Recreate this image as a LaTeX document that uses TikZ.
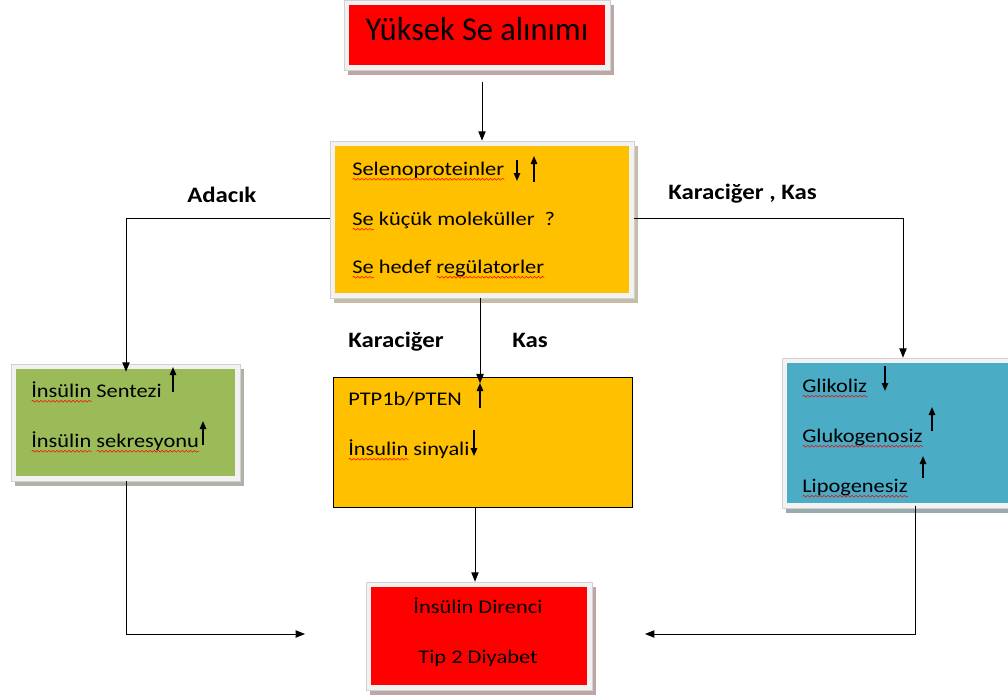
\documentclass[tikz,border=0pt]{standalone}
\usepackage{fontspec}
\usepackage{graphicx}
\setmainfont{Carlito}
\usetikzlibrary{arrows.meta,fit,backgrounds,decorations.pathmorphing}
\newsavebox\rwbox
\newcommand\rw[1]{\sbox\rwbox{#1}\makebox[0pt][l]{\tikz[baseline=0pt,x=1pt,y=1pt]\draw[red,line width=0.35pt,decorate,decoration={snake,amplitude=0.7pt,segment length=2.6pt}] (0pt,-3.2pt) -- (\the\wd\rwbox,-3.2pt);}\usebox\rwbox}
\newcommand\sx[1]{\scalebox{1.16}[1]{#1}}
\newcommand\bx[1]{\scalebox{1.13}[1]{#1}}
\definecolor{cred}{HTML}{FF0000}
\definecolor{corange}{HTML}{FFC000}
\definecolor{cgreen}{HTML}{9BBB59}
\definecolor{cblue}{HTML}{4BACC6}
\definecolor{cframe}{HTML}{F2F2F2}
\tikzset{
  frame/.style={draw=black!18, fill=cframe, inner sep=0pt, line width=0.5pt},
  txt/.style={anchor=base west, inner sep=0pt, font=\fontsize{14.5}{17}\selectfont},
  ctxt/.style={anchor=base, inner sep=0pt, font=\fontsize{14.5}{17}\selectfont},
  lbl/.style={anchor=base west, inner sep=0pt, font=\bfseries\fontsize{16.5}{19}\selectfont},
  con/.style={line width=0.7pt, -{Triangle[length=7pt,width=5.5pt]}},
  ind/.style={line width=1.1pt, -{Triangle[length=6pt,width=4.8pt]}}
}
\newcommand\fbx[7]{%
  \fill[#7] (#2+4,#3+5) rectangle (#4+4,#5+5);
  \node[frame, fit={(#2,#3)(#4,#5)}] (#1) {};
  \fill[#6] ([shift={(5,5)}]#1.north west) rectangle ([shift={(-5,-5)}]#1.south east);
}
\begin{document}
\begin{tikzpicture}[x=0.75pt,y=-0.75pt]
\useasboundingbox (0,0) rectangle (1008,700);
% boxes
\fbx{top}{344}{0}{610}{70}{cred}{cred!25!black!35}
\fbx{sel}{330}{141}{634}{298}{corange}{corange!35!black!35}
\fbx{isl}{11}{364}{240}{481}{cgreen}{cgreen!35!black!40}
\fbx{liv}{782}{358}{1015}{508}{cblue}{cblue!40!black!45}
\fbx{res}{366}{582}{592}{690}{cred}{cred!25!black!35}
\node[draw=black, fill=corange, line width=0.6pt, inner sep=0pt, fit={(333,377)(632,507)}] (ptp) {};

% texts
\node[anchor=base, inner sep=0pt, font=\fontsize{25}{29}\selectfont] (ttop) at (477,40) {\scalebox{0.97}[1]{Yüksek Se alınımı}};

\node[txt] (s1) at (352,175) {\sx{\rw{Selenoproteinler}}};
\node[txt] (s2) at (352,225) {\sx{\rw{Se} küçük moleküller\ \ ?}};
\node[txt] (s3) at (352,273) {\sx{\rw{Se} hedef \rw{regülatorler}}};

\node[txt] (g1) at (31,397) {\sx{\rw{İnsülin} Sentezi}};
\node[txt] (g2) at (31,447) {\sx{\rw{İnsülin} \rw{sekresyonu}}};

\node[txt] (p1) at (348,405) {\sx{PTP1b/PTEN}};
\node[txt] (p2) at (348,455) {\sx{\rw{İnsulin} sinyali}};

\node[txt] (b1) at (802,392) {\sx{\rw{Glikoliz}}};
\node[txt] (b2) at (802,442) {\sx{\rw{Glukogenosiz}}};
\node[txt] (b3) at (802,492) {\sx{\rw{Lipogenesiz}}};

\node[ctxt] (r1) at (478,613) {\sx{İnsülin Direnci}};
\node[ctxt] (r2) at (478,663) {\sx{Tip 2 Diyabet}};

\node[lbl] (ladacik) at (187,202) {\bx{Adacık}};
\node[lbl] (lkk) at (668,199) {\bx{Karaciğer , Kas}};
\node[lbl] (lkar) at (348,347) {\bx{Karaciğer}};
\node[lbl] (lkas) at (512,347) {\bx{Kas}};

% indicator arrows
\draw[ind] (517,160) -- (517,181);
\draw[ind] (534,182) -- (534,156);
\draw[ind] (173,392) -- (173,367);
\draw[ind] (203,445) -- (203,421);
\draw[ind] (480,408) -- (480,383);
\draw[ind] (474,430) -- (474,456);
\draw[ind] (885,366) -- (885,391);
\draw[ind] (932,431) -- (932,407);
\draw[ind] (923,478) -- (923,456);

% connectors
\coordinate (c0) at (482,82);
\coordinate (cl) at (305,634);
\coordinate (cr) at (645,634);
\draw[con] (c0) -- (sel.north -| c0);
\draw[con] (sel.west |- 0,218) -| ([yshift=-6]isl.north -| 126,0);
\draw[con] (sel.east |- 0,218) -| (liv.north -| 903,0);
\draw[con] (sel.south -| 480,0) -- ([yshift=-5]ptp.north -| 480,0);
\draw[con] (ptp.south -| 475,0) -- (res.north -| 475,0);
\draw[con] (isl.south -| 126,0) |- (cl);
\draw[con] ([yshift=2]liv.south -| 915,0) |- (cr);
\end{tikzpicture}
\end{document}
